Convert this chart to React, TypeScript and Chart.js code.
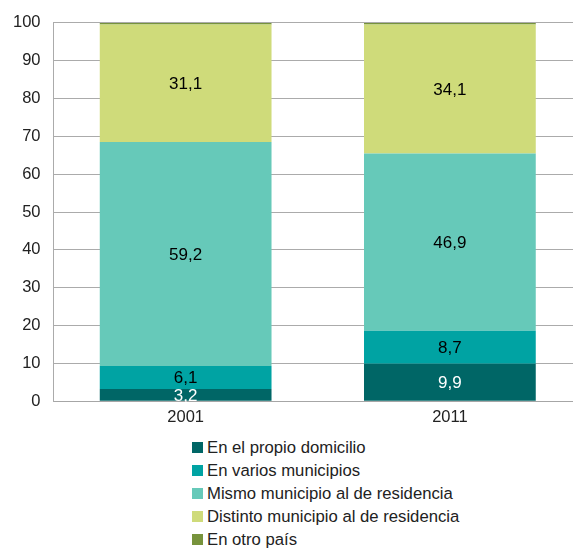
import React, { useEffect, useRef } from "react";
import { Chart, registerables } from "chart.js";

Chart.register(...registerables);

const categories = ["2001", "2011"];
const seriesNames = [
  "En el propio domicilio",
  "En varios municipios",
  "Mismo municipio al de residencia",
  "Distinto municipio al de residencia",
  "En otro país",
];
const propioDomicilio = [3.2, 9.9];
const variosMunicipios = [6.1, 8.7];
const mismoMunicipio = [59.2, 46.9];
const distintoMunicipio = [31.1, 34.1];
const otroPais = [0.4, 0.4];
const seriesColors = ["#006666", "#00A3A3", "#66C9B9", "#CFDB7A", "#77933C"];
const labelColors = ["#ffffff", "#000000", "#000000", "#000000", null];
const yTicks = [0, 10, 20, 30, 40, 50, 60, 70, 80, 90, 100];

const FONT = "'Liberation Sans', Arial, sans-serif";

const valueLabels = {
  id: "valueLabels",
  afterDatasetsDraw(chart: any) {
    const ctx = chart.ctx;
    ctx.save();
    ctx.font = `17px ${FONT}`;
    ctx.textAlign = "center";
    ctx.textBaseline = "middle";
    chart.data.datasets.forEach((ds: any, i: number) => {
      const color = labelColors[i];
      if (!color) return;
      const meta = chart.getDatasetMeta(i);
      meta.data.forEach((bar: any, j: number) => {
        const v = ds.data[j];
        const yc = (bar.y + bar.base) / 2;
        ctx.fillStyle = color;
        ctx.fillText(String(v).replace(".", ","), bar.x, yc + 1);
      });
    });
    ctx.restore();
  },
};

export default function App() {
  const ref = useRef<HTMLCanvasElement>(null);
  useEffect(() => {
    const all = [propioDomicilio, variosMunicipios, mismoMunicipio, distintoMunicipio, otroPais];
    const chart = new Chart(ref.current!, {
      type: "bar",
      data: {
        labels: categories,
        datasets: all.map((d, i) => ({
          label: seriesNames[i],
          data: d,
          backgroundColor: seriesColors[i],
          borderWidth: 0,
          barPercentage: 0.65,
          categoryPercentage: 1,
        })),
      },
      options: {
        animation: false,
        responsive: false,
        maintainAspectRatio: false,
        layout: { padding: { left: 0, right: 2, top: 15, bottom: 0 } },
        plugins: {
          legend: { display: false },
          tooltip: { enabled: false },
        },
        scales: {
          x: {
            stacked: true,
            grid: { display: false, drawTicks: false },
            border: { color: "#a6a6a6", width: 1 },
            ticks: { color: "#222", font: { family: FONT, size: 16.5 }, padding: 6 },
          },
          y: {
            stacked: true,
            min: 0,
            max: 100,
            afterBuildTicks: (axis: any) => {
              axis.ticks = yTicks.map((v) => ({ value: v }));
            },
            grid: { color: "#ababab", lineWidth: 1, drawTicks: false },
            border: { color: "#ababab", width: 1 },
            ticks: { color: "#222", font: { family: FONT, size: 16.5 }, padding: 13 },
          },
        },
      },
      plugins: [valueLabels],
    });
    return () => chart.destroy();
  }, []);

  return (
    <div
      style={{
        position: "absolute",
        left: 0,
        top: 0,
        width: 573,
        height: 548,
        overflow: "hidden",
        background: "#fff",
        fontFamily: FONT,
      }}
    >
      <canvas ref={ref} width={584} height={433} style={{ position: "absolute", left: 0, top: 0 }} />
      <div style={{ position: "absolute", left: 192, top: 436, color: "#222", fontSize: 16.7 }}>
        {seriesNames.map((n, i) => (
          <div key={n} style={{ display: "flex", alignItems: "center", height: 23 }}>
            <span
              style={{
                display: "inline-block",
                width: 11,
                height: 11,
                background: seriesColors[i],
                marginRight: 4,
              }}
            />
            <span>{n}</span>
          </div>
        ))}
      </div>
    </div>
  );
}
